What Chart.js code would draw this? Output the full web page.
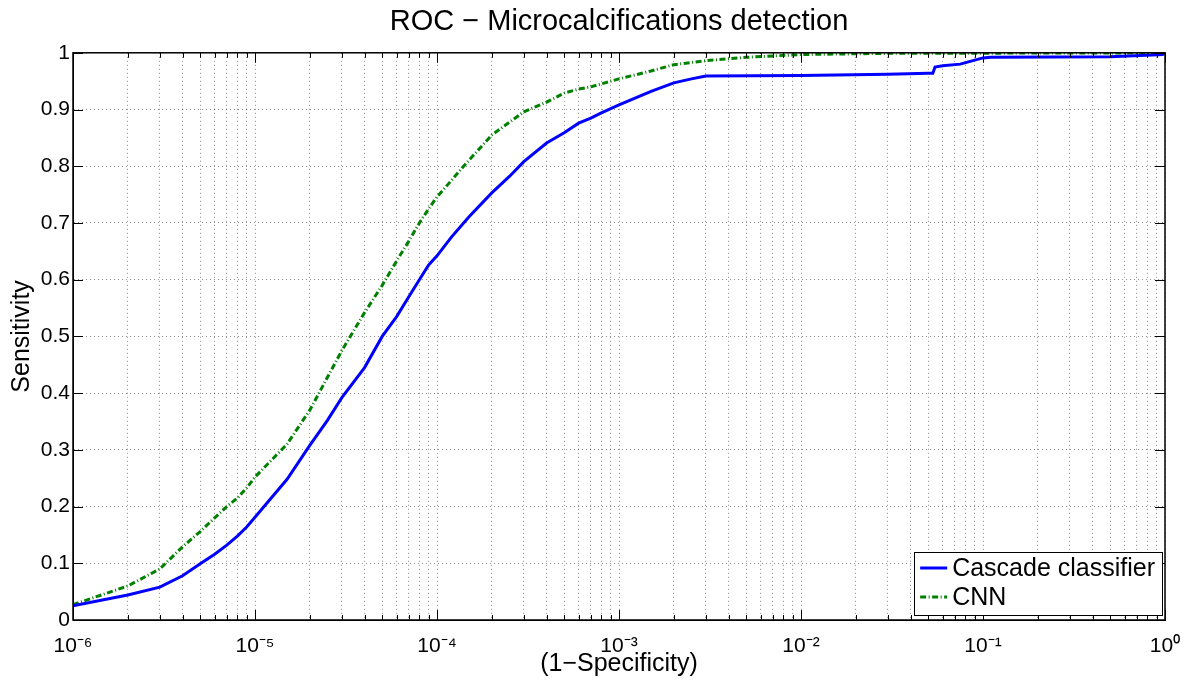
<!DOCTYPE html>
<html>
<head>
<meta charset="utf-8">
<script src="https://cdn.jsdelivr.net/npm/chart.js@4"></script>
<style>
  html, body { margin: 0; padding: 0; background: #fff; }
  #wrap { width: 1189px; height: 680px; }
</style>
</head>
<body>
<div id="wrap"><canvas id="roc" width="1189" height="680"></canvas></div>
<script>
// values (1-specificity on a log axis, sensitivity)
var fprCascade = [1e-6, 2e-6, 3e-6, 4e-6, 5e-6, 6e-6, 7e-6, 8e-6, 9e-6, 1e-5,
                  1.5e-5, 2e-5, 2.5e-5, 3e-5, 4e-5, 5e-5, 6e-5, 7e-5, 8e-5, 9e-5,
                  1e-4, 1.2e-4, 1.5e-4, 2e-4, 2.5e-4, 3e-4, 4e-4, 5e-4, 6e-4, 7e-4,
                  8e-4, 1e-3, 1.5e-3, 2e-3, 2.5e-3, 3e-3, 1e-2, 3e-2, 5e-2, 5.3e-2,
                  5.45e-2, 6e-2, 7.5e-2, 9e-2, 0.1, 0.11, 0.5, 0.85, 0.97, 1];
var tprCascade = [0.025, 0.044, 0.058, 0.078, 0.099, 0.116, 0.132, 0.148, 0.164, 0.181,
                  0.248, 0.308, 0.352, 0.392, 0.445, 0.5, 0.535, 0.57, 0.6, 0.626,
                  0.642, 0.675, 0.711, 0.753, 0.782, 0.808, 0.841, 0.859, 0.876, 0.885,
                  0.894, 0.908, 0.932, 0.947, 0.954, 0.959, 0.96, 0.962, 0.964, 0.964,
                  0.975, 0.977, 0.98, 0.987, 0.991, 0.992, 0.993, 0.996, 0.997, 1.0];
var fprCnn = [1e-6, 2e-6, 3e-6, 4e-6, 5e-6, 6e-6, 7e-6, 8e-6, 9e-6, 1e-5,
              1.5e-5, 2e-5, 3e-5, 4e-5, 5e-5, 6e-5, 7e-5, 8e-5, 9e-5, 1e-4,
              1.2e-4, 1.4e-4, 2e-4, 3e-4, 4e-4, 5e-4, 6e-4, 7e-4, 1e-3, 1.5e-3,
              2e-3, 3e-3, 5e-3, 1e-2, 3e-2, 1];
var tprCnn = [0.027, 0.06, 0.09, 0.129, 0.156, 0.18, 0.2, 0.215, 0.233, 0.252,
              0.31, 0.37, 0.475, 0.542, 0.59, 0.633, 0.668, 0.7, 0.725, 0.746,
              0.775, 0.8, 0.855, 0.896, 0.913, 0.929, 0.936, 0.94, 0.954, 0.968,
              0.979, 0.986, 0.992, 0.997, 0.999, 1.0];
var seriesLabels = ['Cascade classifier', 'CNN'];
var xTickExps = [-6, -5, -4, -3, -2, -1, 0];
var yTickValues = [0, 0.1, 0.2, 0.3, 0.4, 0.5, 0.6, 0.7, 0.8, 0.9, 1];

var FONT = '"Liberation Sans", Arial, Helvetica, sans-serif';
Chart.defaults.font.family = FONT;
Chart.defaults.color = '#000';

function toPoints(xs, ys) {
    var pts = [];
    for (var i = 0; i < xs.length; i++) {
        pts.push({ x: xs[i], y: ys[i] });
    }
    return pts;
}

var SUP = { '-': '\u207B', '0': '\u2070', '1': '\u00B9', '2': '\u00B2', '3': '\u00B3',
            '4': '\u2074', '5': '\u2075', '6': '\u2076', '7': '\u2077', '8': '\u2078', '9': '\u2079' };
function powLabel(e) {
    var s = String(e), out = '';
    for (var i = 0; i < s.length; i++) out += SUP[s[i]];
    return '10' + out;
}
function isDecade(v) {
    var l = Math.log10(v);
    return Math.abs(l - Math.round(l)) < 1e-9;
}

// box around the plot + inward tick marks, matlab style
var axesBox = {
    id: 'axesBox',
    afterDatasetsDraw: function(chart) {
        var ctx = chart.ctx, a = chart.chartArea;
        var xs = chart.scales.x, ys = chart.scales.y;
        ctx.save();
        ctx.strokeStyle = '#000';
        ctx.lineWidth = 1;
        ctx.beginPath();
        xs.ticks.forEach(function(t) {
            var px = Math.round(xs.getPixelForValue(t.value)) + 0.5;
            var len = isDecade(t.value) ? 10 : 5;
            ctx.moveTo(px, a.bottom); ctx.lineTo(px, a.bottom - len);
            ctx.moveTo(px, a.top); ctx.lineTo(px, a.top + len);
        });
        ys.ticks.forEach(function(t) {
            var py = Math.round(ys.getPixelForValue(t.value)) + 0.5;
            ctx.moveTo(a.left, py); ctx.lineTo(a.left + 10, py);
            ctx.moveTo(a.right, py); ctx.lineTo(a.right - 10, py);
        });
        ctx.stroke();
        ctx.lineWidth = 1.5;
        ctx.strokeRect(a.left, a.top, a.right - a.left, a.bottom - a.top);
        ctx.restore();
    }
};

// legend in a framed box at the lower right of the plot
var boxLegend = {
    id: 'boxLegend',
    afterDraw: function(chart) {
        var ctx = chart.ctx, a = chart.chartArea;
        var sets = chart.data.datasets;
        ctx.save();
        ctx.font = '25px ' + FONT;
        var textW = 0;
        sets.forEach(function(d) { textW = Math.max(textW, ctx.measureText(d.label).width); });
        var rowH = 29, sample = 27;
        var w = 6 + sample + 5 + textW + 7;
        var h = rowH * sets.length + 5;
        var right = a.right - 3, bottom = a.bottom - 5;
        var left = right - w, top = bottom - h;
        ctx.fillStyle = '#fff';
        ctx.fillRect(left, top, w, h);
        ctx.strokeStyle = '#000';
        ctx.lineWidth = 1;
        ctx.strokeRect(Math.round(left) + 0.5, Math.round(top) + 0.5, Math.round(w), Math.round(h));
        sets.forEach(function(d, i) {
            var cy = top + 16 + i * rowH;
            ctx.strokeStyle = d.borderColor;
            ctx.lineWidth = d.borderWidth;
            ctx.setLineDash(d.borderDash || []);
            ctx.beginPath();
            ctx.moveTo(left + 6, cy);
            ctx.lineTo(left + 6 + sample, cy);
            ctx.stroke();
            ctx.setLineDash([]);
            ctx.fillStyle = '#000';
            ctx.textBaseline = 'middle';
            ctx.textAlign = 'left';
            ctx.fillText(d.label, left + 6 + sample + 5, cy + 1);
        });
        ctx.restore();
    }
};

new Chart(document.getElementById('roc'), {
    type: 'line',
    data: {
        datasets: [
            {
                label: seriesLabels[0],
                data: toPoints(fprCascade, tprCascade),
                borderColor: '#0000ff',
                borderWidth: 3,
                pointRadius: 0,
                tension: 0,
                fill: false
            },
            {
                label: seriesLabels[1],
                data: toPoints(fprCnn, tprCnn),
                borderColor: '#008000',
                borderWidth: 3,
                borderDash: [6, 2.5, 1, 2.5],
                pointRadius: 0,
                tension: 0,
                fill: false
            }
        ]
    },
    options: {
        responsive: false,
        animation: false,
        devicePixelRatio: 1,
        layout: { padding: { left: 0, right: 24, top: 0, bottom: 0 } },
        plugins: {
            legend: { display: false },
            tooltip: { enabled: false },
            title: {
                display: true,
                fullSize: false,
                text: 'ROC \u2212 Microcalcifications detection',
                font: { size: 29, weight: 'normal' },
                color: '#000',
                padding: { top: 5, bottom: 13 }
            }
        },
        scales: {
            x: {
                type: 'logarithmic',
                min: Math.pow(10, xTickExps[0]),
                max: Math.pow(10, xTickExps[xTickExps.length - 1]),
                afterBuildTicks: function(scale) {
                    var ticks = [];
                    for (var i = 0; i < xTickExps.length; i++) {
                        var base = Math.pow(10, xTickExps[i]);
                        if (i === xTickExps.length - 1) { ticks.push({ value: base }); break; }
                        for (var m = 1; m <= 9; m++) ticks.push({ value: m * base });
                    }
                    scale.ticks = ticks;
                },
                afterFit: function(scale) {
                    scale.height = 60;
                    // end labels fit in the margins, don't let them squeeze the plot
                    scale.paddingLeft = 0;
                    scale.paddingRight = 0;
                },
                ticks: {
                    autoSkip: false,
                    maxRotation: 0,
                    padding: 16,
                    font: { size: 21, lineHeight: 1 },
                    color: '#000',
                    callback: function(v) {
                        return isDecade(v) ? powLabel(Math.round(Math.log10(v))) : '';
                    }
                },
                grid: { color: 'rgba(0,0,0,0.45)', lineWidth: 1, drawTicks: false, tickLength: 0 },
                border: { display: true, color: '#000', width: 1, dash: [1, 3] },
                title: {
                    display: true,
                    text: '(1\u2212Specificity)',
                    font: { size: 25, lineHeight: 1 },
                    color: '#000',
                    padding: { top: 0, bottom: 3 }
                }
            },
            y: {
                type: 'linear',
                min: 0,
                max: 1,
                afterBuildTicks: function(scale) {
                    scale.ticks = yTickValues.map(function(v) { return { value: v }; });
                },
                afterFit: function(scale) { scale.width = 73; },
                ticks: {
                    padding: 3,
                    font: { size: 21, lineHeight: 1 },
                    color: '#000',
                    callback: function(v) { return String(+Number(v).toFixed(1)); }
                },
                grid: { color: 'rgba(0,0,0,0.45)', lineWidth: 1, drawTicks: false, tickLength: 0 },
                border: { display: true, color: '#000', width: 1, dash: [1, 3] },
                title: {
                    display: true,
                    text: 'Sensitivity',
                    font: { size: 25, lineHeight: 1 },
                    color: '#000',
                    padding: { top: 10, bottom: 5 }
                }
            }
        }
    },
    plugins: [axesBox, boxLegend]
});
</script>
</body>
</html>
